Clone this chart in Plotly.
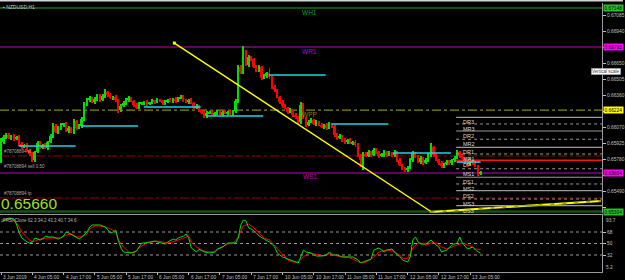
import plotly.graph_objects as go

# ---------------- data ----------------
symbol = "NZDUSD,H1"
first_open = 65771  # price points (x 1e-5)
closes = [
    65934, 65980, 65998, 65971, 65989, 65962, 65980, 65916, 65889, 65907,
    65862, 65826, 65771, 65844, 65925, 65889, 65907, 65880, 65934, 65989,
    66080, 66025, 66061, 66089, 66098, 66034, 66061, 66025, 66125, 66061,
    66080, 66143, 66279, 66315, 66333, 66297, 66324, 66351, 66315, 66351,
    66387, 66360, 66333, 66342, 66315, 66224, 66261, 66288, 66315, 66333,
    66306, 66270, 66243, 66279, 66288, 66297, 66279, 66288, 66306, 66297,
    66315, 66306, 66288, 66297, 66315, 66306, 66324, 66306, 66333, 66342,
    66315, 66297, 66315, 66288, 66243, 66261, 66224, 66206, 66170, 66197,
    66206, 66188, 66197, 66206, 66188, 66206, 66197, 66206, 66188, 66215,
    66306, 66614, 66569, 66750, 66632, 66705, 66686, 66614, 66587, 66614,
    66514, 66532, 66560, 66523, 66433, 66406, 66342, 66297, 66261, 66243,
    66206, 66224, 66179, 66161, 66116, 66270, 66152, 66089, 66116, 66134,
    66098, 66116, 66089, 66071, 66089, 66061, 66098, 66080, 65998, 65971,
    65989, 65953, 65934, 65953, 65925, 65934, 65907, 65817, 65771, 65826,
    65808, 65844, 65817, 65862, 65844, 65808, 65817, 65844, 65817, 65835,
    65817, 65844, 65771, 65726, 65699, 65681, 65699, 65771, 65835, 65799,
    65753, 65790, 65744, 65771, 65817, 65889, 65817, 65771, 65744, 65717,
    65735, 65753, 65744, 65771, 65790, 65844, 65808, 65790, 65753, 65735,
    65771, 65744, 65717, 65645, 65660,
]
upper_wick = [
    36, 18, 15, 20, 12, 18, 10, 15, 20, 12, 15, 10, 18, 12, 20, 15, 10, 18, 14, 16,
    27, 15, 18, 20, 12, 14, 18, 10, 20, 12, 15, 18, 22, 15, 18, 12, 20, 14, 16, 18,
    25, 14, 18, 12, 16, 10, 18, 14, 20, 16, 12, 10, 14, 18, 12, 10, 14, 12, 16, 10,
    14, 12, 10, 16, 12, 14, 10, 18, 12, 16, 14, 10, 12, 16, 10, 18, 12, 14, 10, 20,
    12, 14, 10, 16, 12, 10, 14, 12, 16, 10, 18, 20, 15, 54, 14, 18, 10, 12, 14, 16,
    12, 16, 10, 45, 12, 14, 10, 12, 16, 14, 12, 18, 10, 14, 12, 25, 20, 12, 14, 16,
    10, 14, 12, 18, 10, 14, 16, 12, 10, 14, 16, 12, 18, 10, 14, 12, 16, 14, 12, 18,
    16, 14, 12, 18, 20, 12, 14, 16, 10, 18, 12, 16, 10, 14, 12, 10, 16, 18, 14, 12,
    16, 14, 12, 18, 14, 36, 12, 14, 10, 16, 12, 18, 14, 10, 16, 20, 12, 14, 10, 16,
    18, 12, 14, 10, 8,
]
lower_wick = [
    27, 15, 18, 12, 20, 14, 10, 18, 16, 12, 14, 18, 18, 20, 12, 16, 14, 10, 18, 12,
    15, 12, 16, 14, 18, 10, 14, 12, 18, 16, 12, 16, 20, 14, 18, 12, 16, 14, 18, 10,
    14, 18, 12, 16, 14, 27, 16, 12, 14, 18, 12, 16, 14, 10, 12, 18, 14, 12, 10, 16,
    12, 10, 16, 14, 12, 10, 14, 16, 12, 10, 14, 12, 16, 10, 14, 12, 18, 16, 20, 14,
    12, 10, 14, 16, 12, 18, 10, 14, 12, 16, 14, 18, 16, 20, 12, 14, 16, 12, 18, 14,
    16, 12, 14, 18, 16, 14, 12, 16, 18, 14, 16, 12, 18, 14, 20, 18, 12, 16, 14, 12,
    14, 16, 12, 10, 18, 14, 12, 16, 18, 14, 12, 16, 14, 18, 12, 16, 14, 18, 60, 90,
    14, 12, 16, 10, 14, 18, 12, 16, 14, 12, 16, 14, 18, 12, 20, 16, 14, 12, 18, 14,
    12, 16, 14, 12, 18, 14, 16, 12, 14, 18, 14, 12, 16, 18, 14, 12, 16, 14, 18, 12,
    14, 16, 12, 18, 10,
]

time_labels = ["3 Jun 2019", "4 Jun 05:00", "4 Jun 17:00", "5 Jun 05:00", "5 Jun 17:00",
               "6 Jun 05:00", "6 Jun 17:00", "7 Jun 05:00", "7 Jun 17:00", "10 Jun 05:00",
               "10 Jun 17:00", "11 Jun 05:00", "11 Jun 17:00", "12 Jun 05:00", "12 Jun 17:00",
               "13 Jun 05:00"]
time_label_bars = [0, 12, 24, 36, 48, 60, 72, 84, 96, 108, 120, 132, 144, 156, 168, 180]

price_ticks = [0.65345, 0.65490, 0.65635, 0.65780, 0.65925, 0.66070, 0.66215,
               0.66360, 0.66505, 0.66650, 0.66795, 0.66940, 0.67085]

# weekly levels (full width)
weekly_names = ["WH1", "WR1", "WPP", "WS1"]
weekly_prices = [0.67148, 0.66795, 0.66224, 0.65654]
low_green_level = 0.65304
# trade levels
trade_texts = ["#78708894 sl", "#78708894 sell 0.50", "#78708894 tp"]
trade_prices = [0.65808, 0.65672, 0.65427]
bid_text = "0.65660"

# daily cyan segments
day_start_bars = [7, 31, 55, 79, 103, 127, 151, 175]
day_levels = [0.65898, 0.66079, 0.66251, 0.66170, 0.66541, 0.66097, 0.65835, 0.65753]

# today's pivot set
pivot_names = ["DR3", "MR3", "DR2", "MR2", "DR1", "MR1", "DP", "MS1", "DS1", "MS2", "DS2", "MS3", "DS3"]
pivot_prices = [0.66158, 0.66098, 0.66034, 0.65959, 0.65886, 0.65826, 0.65769,
                0.65692, 0.65615, 0.65554, 0.65493, 0.65418, 0.65357]
pivot_start_bar = 175

# trend lines (bar index, price)
trend1_bars = [66.5, 165.2]
trend1_prices = [0.66831, 0.65300]
trend2_bars = [164.8, 230.2]
trend2_prices = [0.65300, 0.65400]

# oscillator
osc_name = "FRSI-Clone 62.3 34.2 43.3 40.7 34.6"
fast_bars = [0, 3, 5, 6, 7, 8, 10, 11, 12, 13, 15, 16, 17, 18, 20, 21, 22, 24, 25, 26, 28, 29, 30, 31,
             33, 34, 35, 36, 38, 39, 40, 41, 42, 43, 44, 45, 46, 47, 49, 50, 52, 53, 54, 55, 57, 58, 59,
             60, 62, 63, 64, 66, 67, 68, 70, 71, 72, 73, 75, 76, 78, 80, 82, 83, 85, 87, 89, 90, 91, 92,
             93, 94, 95, 96, 98, 99, 101, 103, 105, 106, 108, 110, 112, 114, 115, 116, 117, 119, 121,
             123, 125, 126, 127, 129, 131, 133, 135, 137, 138, 140, 142, 143, 145, 147, 148, 150, 152,
             153, 154, 156, 157, 158, 159, 160, 161, 163, 165, 166, 168, 169, 171, 173, 175, 176, 177,
             179, 181, 182, 184]
fast_vals = [83.6, 89.9, 88.3, 79.0, 66.4, 58.6, 52.3, 50.8, 52.3, 58.6, 55.5, 57.0, 61.7, 60.2, 60.2,
             58.6, 57.0, 61.7, 68.0, 66.4, 61.7, 58.6, 57.0, 60.2, 68.0, 75.8, 79.0, 79.0, 79.0, 77.4,
             75.8, 71.1, 66.4, 68.0, 71.1, 55.0, 43.0, 36.7, 35.1, 35.1, 38.3, 44.5, 50.8, 50.8, 52.3,
             53.9, 53.9, 52.3, 50.8, 49.2, 52.3, 57.0, 55.5, 58.6, 61.7, 64.9, 58.6, 43.0, 36.7, 41.0,
             36.7, 35.1, 36.7, 41.4, 44.5, 50.8, 50.8, 50.8, 58.6, 79.0, 86.8, 85.2, 74.3, 72.7, 66.4,
             61.7, 57.0, 52.3, 44.5, 35.1, 28.9, 25.7, 22.6, 19.5, 28.9, 39.8, 36.7, 35.1, 30.4, 30.4,
             32.0, 36.7, 32.0, 32.0, 28.9, 28.9, 28.9, 24.2, 19.5, 22.6, 25.7, 39.8, 43.0, 36.7, 39.8,
             41.4, 32.0, 30.0, 24.2, 21.1, 28.9, 55.5, 60.2, 52.3, 49.2, 49.2, 55.5, 50.8, 44.5, 36.7,
             39.8, 47.7, 50.8, 60.2, 50.8, 41.4, 44.5, 39.8, 34.6]
slow_bars = [0, 4, 6, 8, 10, 12, 13, 15, 17, 19, 21, 23, 25, 27, 29, 31, 33, 34, 36, 38, 40, 42, 44,
             45, 47, 49, 51, 52, 54, 56, 58, 60, 62, 64, 66, 68, 70, 72, 73, 75, 77, 79, 82, 84, 87,
             89, 91, 93, 95, 97, 99, 101, 103, 104, 106, 108, 110, 112, 114, 116, 118, 120, 122, 124,
             125, 127, 129, 131, 133, 135, 137, 139, 141, 143, 145, 147, 148, 150, 153, 154, 156, 158,
             160, 161, 163, 165, 167, 169, 171, 173, 175, 177, 179, 181, 182, 184]
slow_vals = [86.8, 88.3, 82.1, 68.0, 58.6, 52.3, 53.9, 57.0, 58.6, 58.6, 58.6, 58.6, 63.3, 64.9, 60.2,
             60.2, 64.9, 72.7, 77.4, 77.4, 75.8, 72.7, 68.0, 55.5, 44.5, 36.7, 35.1, 39.8, 46.1, 50.8,
             52.3, 53.9, 52.3, 50.8, 52.3, 55.5, 58.6, 61.7, 52.3, 44.5, 39.8, 36.7, 36.7, 43.0, 49.2,
             50.8, 60.2, 77.4, 80.5, 74.3, 66.4, 58.6, 55.5, 50.8, 43.0, 32.0, 24.2, 21.1, 21.1, 28.9,
             35.1, 33.6, 32.0, 30.4, 33.6, 33.6, 30.4, 28.9, 28.9, 25.7, 21.1, 19.5, 22.6, 28.9, 36.7,
             38.3, 39.8, 38.3, 32.0, 27.3, 25.7, 43.0, 50.8, 50.8, 47.7, 50.8, 50.8, 44.5, 41.4, 44.5,
             47.7, 50.8, 47.7, 44.5, 41.4, 40.7]
osc_levels = [68, 50, 32]
osc_max_label, osc_min_label = "93.7", "5.2"

# ---------------- build ----------------
W, H = 625, 280
BG = "#000000"
AX = "#c0c0c0"
FONT = "Liberation Sans"
UP, DN = "#00e000", "#ff0000"

n = len(closes)
idx = list(range(n))
opens = [first_open] + closes[:-1]
o = [v / 1e5 for v in opens]
c = [v / 1e5 for v in closes]
hi = [(max(a, b) + u) / 1e5 for a, b, u in zip(opens, closes, upper_wick)]
lo = [(min(a, b) - d) / 1e5 for a, b, d in zip(opens, closes, lower_wick)]
cols = [UP if cc >= oo else DN for oo, cc in zip(o, c)]
body_base = [min(a, b) for a, b in zip(o, c)]
body_h = [max(abs(b - a), 0.00003) for a, b in zip(o, c)]

def px(xp):
    return xp / W

def py(yp):
    return 1 - yp / H

XR = [-0.4, 230.6]
YR = [0.65291, 0.67194]
OR = [5.4, 94.6]
xdom = [0, 604 / W]
ydom_main = [py(213), py(3)]
ydom_osc = [py(272), py(215)]

fig = go.Figure()
fig.add_trace(go.Bar(x=idx, y=[h - l for h, l in zip(hi, lo)], base=lo, width=0.38,
                     marker=dict(color=cols, line=dict(width=0)), xaxis="x", yaxis="y",
                     hoverinfo="skip"))
fig.add_trace(go.Bar(x=idx, y=body_h, base=body_base, width=0.75,
                     marker=dict(color=cols, line=dict(width=0)), xaxis="x", yaxis="y",
                     hoverinfo="skip"))

shapes = []
annotations = []

# weekly levels
wk_style = {"WH1": ("#145214", 2, "solid", "#1fa01f"),
            "WR1": ("#800080", 1.5, "solid", "#c000c0"),
            "WPP": ("#8a8a00", 1.2, "dashdot", "#8a8a00"),
            "WS1": ("#800080", 1.5, "solid", "#c000c0")}
for name, pr in zip(weekly_names, weekly_prices):
    col, wd, dash, tcol = wk_style[name]
    shapes.append(dict(type="line", xref="x", yref="y", x0=XR[0], x1=XR[1], y0=pr, y1=pr,
                       line=dict(color=col, width=wd, dash=dash), layer="below"))
    annotations.append(dict(xref="x", yref="y", x=118.5, y=pr, yanchor="top", xanchor="center",
                            yshift=1.5, text=name, showarrow=False,
                            font=dict(family=FONT, size=6.5, color=tcol)))
shapes.append(dict(type="line", xref="x", yref="y", x0=XR[0], x1=XR[1], y0=low_green_level,
                   y1=low_green_level, line=dict(color="#145214", width=2.5), layer="below"))

# trade levels (sl, order, tp)
for k, (t, pr) in enumerate(zip(trade_texts, trade_prices)):
    if k != 1:
        shapes.append(dict(type="line", xref="x", yref="y", x0=XR[0], x1=XR[1], y0=pr, y1=pr,
                           line=dict(color="#9a0000", width=1, dash="dashdot"), layer="below"))
    annotations.append(dict(xref="paper", yref="y", x=px(2), y=pr, xanchor="left", yanchor="bottom",
                            yshift=0, text=t, showarrow=False,
                            font=dict(family=FONT, size=4.5, color="#a8a8a8")))

# daily cyan segments
for k, (sb, lv) in enumerate(zip(day_start_bars, day_levels)):
    end = sb + 21.6 if k < len(day_start_bars) - 1 else n - 1
    shapes.append(dict(type="line", xref="x", yref="y", x0=sb - 0.2, x1=end, y0=lv, y1=lv,
                       line=dict(color="#19d9e3", width=1.6)))

# pivots
for name, pr in zip(pivot_names, pivot_prices):
    if name == "DP":
        ln = dict(color="#ff1010", width=1.5)
    elif name.startswith("D"):
        ln = dict(color="#9a9a9a", width=1.2)
    else:
        ln = dict(color="#9a9a9a", width=1, dash="dot")
    shapes.append(dict(type="line", xref="x", yref="y", x0=pivot_start_bar - 0.4, x1=XR[1],
                       y0=pr, y1=pr, line=ln))
    annotations.append(dict(xref="x", yref="y", x=pivot_start_bar + 1.5, y=pr, xanchor="left",
                            yanchor="top", yshift=0, text=name, showarrow=False,
                            font=dict(family=FONT, size=5.5, color="#d8d8d8")))

# trend lines
fig.add_trace(go.Scatter(x=trend1_bars, y=trend1_prices, mode="lines", xaxis="x", yaxis="y",
                         line=dict(color="#ffff00", width=1.4), hoverinfo="skip"))
fig.add_trace(go.Scatter(x=trend1_bars[:1], y=trend1_prices[:1], mode="markers", xaxis="x", yaxis="y",
                         marker=dict(color="#ffff00", size=3, symbol="square"), hoverinfo="skip"))
fig.add_trace(go.Scatter(x=trend2_bars, y=trend2_prices, mode="lines", xaxis="x", yaxis="y",
                         line=dict(color="#ffff00", width=2), hoverinfo="skip"))
fig.add_trace(go.Scatter(x=trend2_bars, y=trend2_prices, mode="lines", xaxis="x", yaxis="y",
                         line=dict(color="#9a9a00", width=2, dash="4px,8px"), hoverinfo="skip"))

# oscillator
for lv in osc_levels:
    shapes.append(dict(type="line", xref="x2", yref="y2", x0=XR[0], x1=XR[1], y0=lv, y1=lv,
                       line=dict(color="#9a9a9a", width=1, dash="dot"), layer="below"))
fig.add_trace(go.Scatter(x=slow_bars, y=slow_vals, mode="lines", xaxis="x2", yaxis="y2",
                         line=dict(color="#ff0000", width=1), hoverinfo="skip"))
fig.add_trace(go.Scatter(x=fast_bars, y=fast_vals, mode="lines", xaxis="x2", yaxis="y2",
                         line=dict(color="#00e000", width=1), hoverinfo="skip"))

# price label boxes on axis
box_specs = [(weekly_prices[0], "#27c227"), (weekly_prices[1], "#ff00ff"),
             (weekly_prices[2], "#ffff00"), (weekly_prices[3], "#ff00ff"),
             (low_green_level, "#27c227")]
for pr, bg in box_specs:
    annotations.append(dict(xref="paper", yref="y", x=px(605), y=pr, xanchor="left", yanchor="middle",
                            text=f"{pr:.5f}", showarrow=False, bgcolor=bg, borderpad=0.5,
                            font=dict(family=FONT, size=4.8, color="#000000")))
# tick labels hidden where a label box covers them (as in the terminal)
box_prices = [b[0] for b in box_specs]
tick_text = ["" if any(abs(t - b) < 0.00045 for b in box_prices) else f"{t:.5f}" for t in price_ticks]

# texts
annotations.append(dict(xref="paper", yref="paper", x=px(1), y=py(2.5), xanchor="left", yanchor="top",
                        text="▪ " + symbol, showarrow=False,
                        font=dict(family=FONT, size=5, color="#c8c8c8")))
annotations.append(dict(xref="paper", yref="paper", x=px(-1), y=py(213.5), xanchor="left",
                        yanchor="bottom", text=bid_text, showarrow=False,
                        font=dict(family=FONT, size=15.5, color="#9ee21c")))
annotations.append(dict(xref="paper", yref="paper", x=px(1), y=py(215.5), xanchor="left",
                        yanchor="top", text=osc_name, showarrow=False,
                        font=dict(family=FONT, size=4.5, color="#b8b8b8")))
annotations.append(dict(xref="paper", yref="paper", x=px(606), y=py(216), xanchor="left",
                        yanchor="top", text=osc_max_label, showarrow=False,
                        font=dict(family=FONT, size=4.8, color=AX)))
annotations.append(dict(xref="paper", yref="paper", x=px(606), y=py(272), xanchor="left",
                        yanchor="bottom", text=osc_min_label, showarrow=False,
                        font=dict(family=FONT, size=4.8, color=AX)))
annotations.append(dict(xref="paper", yref="paper", x=px(593), y=py(67.5), xanchor="left",
                        yanchor="top", text="Vertical scale", showarrow=False, bgcolor="#ffffff",
                        bordercolor="#7a7a7a", borderwidth=0.5, borderpad=0.5,
                        font=dict(family=FONT, size=4.6, color="#404040")))
for t, b in zip(time_labels, time_label_bars):
    annotations.append(dict(xref="x2", yref="paper", x=b, y=py(273), xanchor="left", yanchor="top",
                            xshift=0, text=t, showarrow=False,
                            font=dict(family=FONT, size=4.8, color=AX)))

# window top border
shapes.append(dict(type="rect", xref="paper", yref="paper", x0=0, x1=1, y0=py(1.5), y1=1,
                   fillcolor="#d4d4d4", line=dict(width=0)))

fig.update_layout(
    width=W, height=H, margin=dict(l=0, r=0, t=0, b=0),
    paper_bgcolor=BG, plot_bgcolor=BG, showlegend=False, barmode="overlay", bargap=0,
    shapes=shapes, annotations=annotations,
    xaxis=dict(domain=xdom, range=XR, anchor="y", showticklabels=False, showgrid=False,
               zeroline=False, showline=False, ticks=""),
    yaxis=dict(domain=ydom_main, range=YR, anchor="x", side="right", showgrid=False, zeroline=False,
               tickvals=price_ticks, ticktext=tick_text,
               ticks="outside", ticklen=3, tickcolor=AX, showline=True, linecolor="#9a9a9a",
               linewidth=1, tickfont=dict(family=FONT, size=4.8, color=AX)),
    xaxis2=dict(domain=xdom, range=XR, anchor="y2", matches="x", showgrid=False, zeroline=False,
                tickvals=time_label_bars, ticktext=["" for _ in time_label_bars], ticks="outside",
                ticklen=2, tickcolor=AX, showline=True, mirror=True, linecolor="#9a9a9a",
                linewidth=1),
    yaxis2=dict(domain=ydom_osc, range=OR, anchor="x2", side="right", showgrid=False, zeroline=False,
                tickvals=osc_levels, ticktext=[str(v) for v in osc_levels], ticks="outside",
                ticklen=3, tickcolor=AX, showline=True, linecolor="#9a9a9a", linewidth=1,
                tickfont=dict(family=FONT, size=4.8, color=AX)),
)

fig.write_html("out.html")
